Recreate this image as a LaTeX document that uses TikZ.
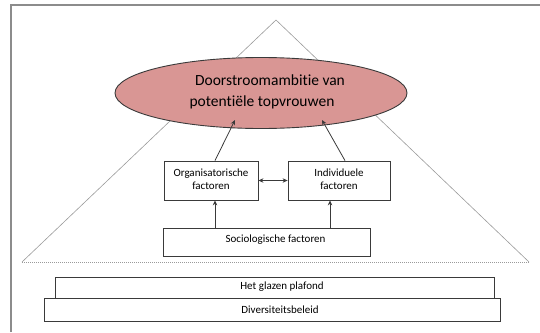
\documentclass[tikz,border=0pt]{standalone}
\usepackage{fontspec}
\setmainfont{Carlito}[Ligatures={NoCommon}]
\usetikzlibrary{shapes.geometric,arrows.meta}
\definecolor{framegray}{HTML}{8C8C8C}
\definecolor{trigray}{HTML}{9A9A9A}
\definecolor{edgegray}{HTML}{3A3A3A}
\definecolor{rosefill}{HTML}{D99694}
\tikzset{
  factorbox/.style={draw=edgegray, line width=0.8pt, fill=white, inner sep=0pt},
  label/.style={font=\fontsize{11}{13.5}\selectfont, align=center, text=black, inner sep=0pt},
  bigtext/.style={font=\fontsize{15.5}{22}\selectfont, text=black, inner sep=0pt},
  link/.style={draw=edgegray, line width=0.8pt, -{Stealth[length=5pt,width=4.5pt]}},
}
\begin{document}
\begin{tikzpicture}[x=1pt,y=-1pt]
\useasboundingbox (0,0) rectangle (540,332);
% page frame: only left and top edges
\draw[framegray, line width=1.5pt] (11,332) -- (11,5) -- (540,5);
% pyramid
\coordinate (apex) at (276,20);
\coordinate (baseL) at (22,262);
\coordinate (baseR) at (529,262);
\draw[trigray, line width=0.6pt] (baseL) -- (apex) -- (baseR);
\draw[trigray, line width=0.8pt, dash pattern=on 1pt off 1pt] (baseL) -- (baseR);
% ambition ellipse
\node[ellipse, draw=edgegray, line width=0.9pt, fill=rosefill, minimum width=292pt, minimum height=71pt, inner sep=0pt] (amb) at (261,93) {};
\node[bigtext] (amb1) at (270,80) {Doorstroomambitie van};
\node[bigtext] (amb2) at (262,102) {potentiële topvrouwen};
% factor boxes
\node[factorbox, minimum width=94pt, minimum height=39pt] (org) at (211,180.5) {};
\node[label] (orgt) at (211,179) {Organisatorische\\factoren};
\node[factorbox, minimum width=102pt, minimum height=39pt] (ind) at (339,180.5) {};
\node[label] (indt) at (339,179) {Individuele\\factoren};
\node[factorbox, minimum width=207pt, minimum height=28pt] (soc) at (266.5,242) {};
\node[label] (soct) at (275.5,240) {Sociologische factoren};
% foundations
\node[factorbox, minimum width=439pt, minimum height=21pt] (glass) at (274.5,287.5) {};
\node[label] (glasst) at (282,287) {Het glazen plafond};
\node[factorbox, minimum width=456pt, minimum height=23pt] (div) at (272,309.5) {};
\node[label] (divt) at (280,309.5) {Diversiteitsbeleid};
% connectors
\coordinate (ambL) at (235,120);
\coordinate (ambR) at (322,120);
\draw[link] ([xshift=4]org.north) -- (ambL);
\draw[link] ([xshift=6]ind.north) -- (ambR);
\draw[link] ([xshift=-51.5]soc.north) -- ([xshift=4]org.south);
\draw[link] ([xshift=63.5]soc.north) -- ([xshift=-9]ind.south);
\draw[draw=edgegray, line width=0.8pt, {Stealth[length=5pt,width=4.5pt]}-{Stealth[length=5pt,width=4.5pt]}] (org.east) -- (ind.west);
\end{tikzpicture}
\end{document}
